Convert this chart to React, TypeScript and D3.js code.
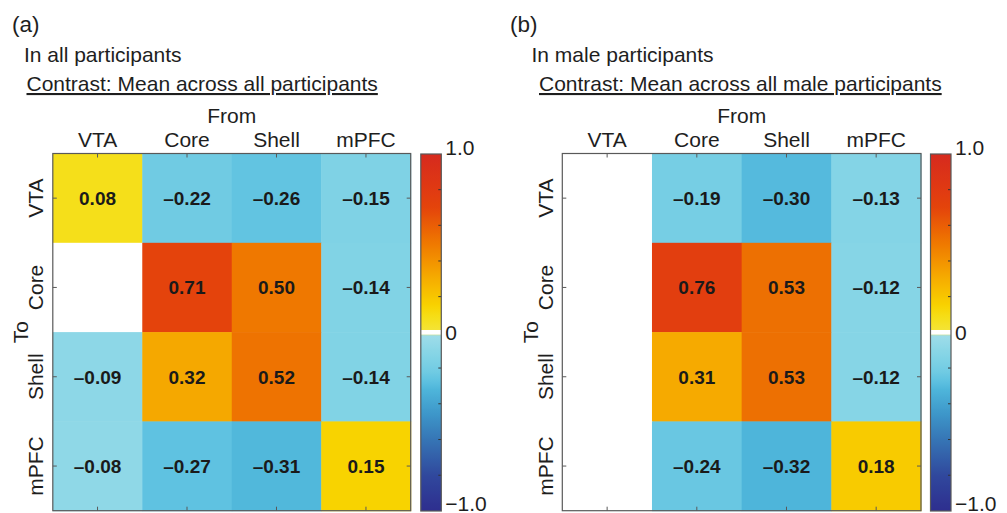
import React from "react";
import * as d3 from "d3";

const regions = ["VTA", "Core", "Shell", "mPFC"];
const valuesA: (number | null)[][] = [
  [0.08, -0.22, -0.26, -0.15],
  [null, 0.71, 0.5, -0.14],
  [-0.09, 0.32, 0.52, -0.14],
  [-0.08, -0.27, -0.31, 0.15],
];
const valuesB: (number | null)[][] = [
  [null, -0.19, -0.3, -0.13],
  [null, 0.76, 0.53, -0.12],
  [null, 0.31, 0.53, -0.12],
  [null, -0.24, -0.32, 0.18],
];
const colorStops = [-1.0, -0.8, -0.6, -0.45, -0.32, -0.27, -0.22, -0.15, -0.08, -0.0001, 0, 0.08, 0.15, 0.3, 0.5, 0.7, 0.8, 1.0];
const colorRange = ["#2e2e8e", "#30489d", "#3675b5", "#3e98ca", "#4eb5da", "#5fc2e1", "#70cbe3", "#7fd2e5", "#8fd8e7", "#a2dde9",
  "#f4e43c", "#f5df1a", "#f8d300", "#f6ad00", "#ef7800", "#e4440b", "#e03a12", "#d62a1e"];
const cbTicks = [-0.8, -0.6, -0.4, -0.2, 0.2, 0.4, 0.6, 0.8];
const cbLabels = [{ v: 1.0, t: "1.0" }, { v: 0, t: "0" }, { v: -1.0, t: "−1.0" }];

const color = d3.scaleLinear<string>().domain(colorStops).range(colorRange).interpolate(d3.interpolateRgb).clamp(true);

const FONT = "'Liberation Sans', Arial, Helvetica, sans-serif";
const TXT = "#1e1e1e";
const FRAME = "#595959";
const FS = 21;

function fmt(v: number) {
  const s = Math.abs(v).toFixed(2);
  return v < 0 ? "–" + s : s;
}

type PanelProps = {
  id: string;
  letter: string;
  subtitle: string;
  contrast: string;
  values: (number | null)[][];
  left: number;
  right: number;
  cbX: number;
  letterX: number;
  subX: number;
  conX: number;
};

function Panel(p: PanelProps) {
  const top = 153.5, bottom = 510.7;
  const x = d3.scaleBand<string>().domain(regions).range([p.left, p.right]);
  const y = d3.scaleBand<string>().domain(regions).range([top, bottom]);
  const cbY = d3.scaleLinear().domain([-1, 0, 1]).range([511, 332.3, 154]);
  const cbW = 20.5;
  const gradStops = d3.range(0, 1.0001, 0.01);
  const tickLen = 4;
  const gid = "grad" + p.id;
  return (
    <g>
      <defs>
        <linearGradient id={gid} x1="0" y1="1" x2="0" y2="0">
          {gradStops.map((s) => {
            let v = -1 + 2 * s;
            if (Math.abs(v) < 1e-9) v = 0;
            return <stop key={s.toFixed(2)} offset={s} stopColor={color(v === 0 ? 0.0001 : v)} />;
          })}
        </linearGradient>
      </defs>
      <text x={p.letterX} y={32} fontSize={22.5} fontFamily={FONT} fill={TXT}>{p.letter}</text>
      <text x={p.subX} y={61.5} fontSize={FS} fontFamily={FONT} fill={TXT}>{p.subtitle}</text>
      <text x={p.conX} y={91} fontSize={FS} fontFamily={FONT} fill={TXT} textDecoration="underline">{p.contrast}</text>
      <text x={(p.left + p.right) / 2} y={123} fontSize={FS} fontFamily={FONT} fill={TXT} textAnchor="middle">From</text>
      {regions.map((r) => (
        <text key={"c" + r} x={x(r)! + x.bandwidth() / 2} y={146.5} fontSize={FS} fontFamily={FONT} fill={TXT} textAnchor="middle">{r}</text>
      ))}
      {regions.map((r) => (
        <text key={"r" + r} transform={`translate(${p.left - 9.5},${y(r)! + y.bandwidth() / 2}) rotate(-90)`} fontSize={FS} fontFamily={FONT} fill={TXT} textAnchor="middle">{r}</text>
      ))}
      <text transform={`translate(${p.left - 24.5},${(top + bottom) / 2}) rotate(-90)`} fontSize={FS} fontFamily={FONT} fill={TXT} textAnchor="middle">To</text>
      {p.values.map((row, i) =>
        row.map((v, j) => (
          <rect key={`cell${i}-${j}`} x={x(regions[j])!} y={y(regions[i])!} width={x.bandwidth() + 0.5} height={y.bandwidth() + 0.5}
            fill={v === null ? "#ffffff" : color(v)} />
        ))
      )}
      {p.values.map((row, i) =>
        row.map((v, j) =>
          v === null ? null : (
            <text key={`val${i}-${j}`} x={x(regions[j])! + x.bandwidth() / 2} y={y(regions[i])! + y.bandwidth() / 2 + 7}
              fontSize={19} fontWeight="bold" fontFamily={FONT} fill="#1a1a1a" textAnchor="middle">{fmt(v)}</text>
          )
        )
      )}
      {regions.map((r) => {
        const cx = x(r)! + x.bandwidth() / 2;
        const cy = y(r)! + y.bandwidth() / 2;
        return (
          <g key={"t" + r} stroke={FRAME} strokeWidth={1}>
            <line x1={cx} x2={cx} y1={top} y2={top + tickLen} />
            <line x1={cx} x2={cx} y1={bottom} y2={bottom - tickLen} />
            <line x1={p.left} x2={p.left + tickLen} y1={cy} y2={cy} />
            <line x1={p.right} x2={p.right - tickLen} y1={cy} y2={cy} />
          </g>
        );
      })}
      <rect x={p.left} y={top} width={p.right - p.left} height={bottom - top} fill="none" stroke={FRAME} strokeWidth={1.2} />
      <rect x={p.cbX} y={154} width={cbW} height={357} fill={`url(#${gid})`} />
      <rect x={p.cbX} y={cbY(0) - 2.3} width={cbW} height={4.6} fill="#ffffff" />
      {cbTicks.map((t) => (
        <line key={"cbt" + t} x1={p.cbX + cbW} x2={p.cbX + cbW - 3} y1={cbY(t)} y2={cbY(t)} stroke="#333" strokeWidth={1} />
      ))}
      <rect x={p.cbX} y={154} width={cbW} height={357} fill="none" stroke={FRAME} strokeWidth={1.2} />
      {cbLabels.map((l) => (
        <text key={"cbl" + l.t} x={p.cbX + cbW + 4} y={l.v === 1 ? 154.5 : l.v === 0 ? 339.5 : 510.5}
          fontSize={FS} fontFamily={FONT} fill={TXT}>{l.t}</text>
      ))}
    </g>
  );
}

export default function App() {
  return (
    <svg width={1007} height={513} viewBox="0 0 1007 513" style={{ position: "absolute", left: 0, top: 0, background: "#fff" }}>
      <rect x={0} y={0} width={1007} height={513} fill="#ffffff" />
      <Panel id="a" letter="(a)" subtitle="In all participants" contrast="Contrast: Mean across all participants"
        values={valuesA} left={52.8} right={410.7} cbX={420.8} letterX={12} subX={24} conX={26.5} />
      <Panel id="b" letter="(b)" subtitle="In male participants" contrast="Contrast: Mean across all male participants"
        values={valuesB} left={562.3} right={921} cbX={930.5} letterX={510} subX={531.5} conX={539} />
    </svg>
  );
}
